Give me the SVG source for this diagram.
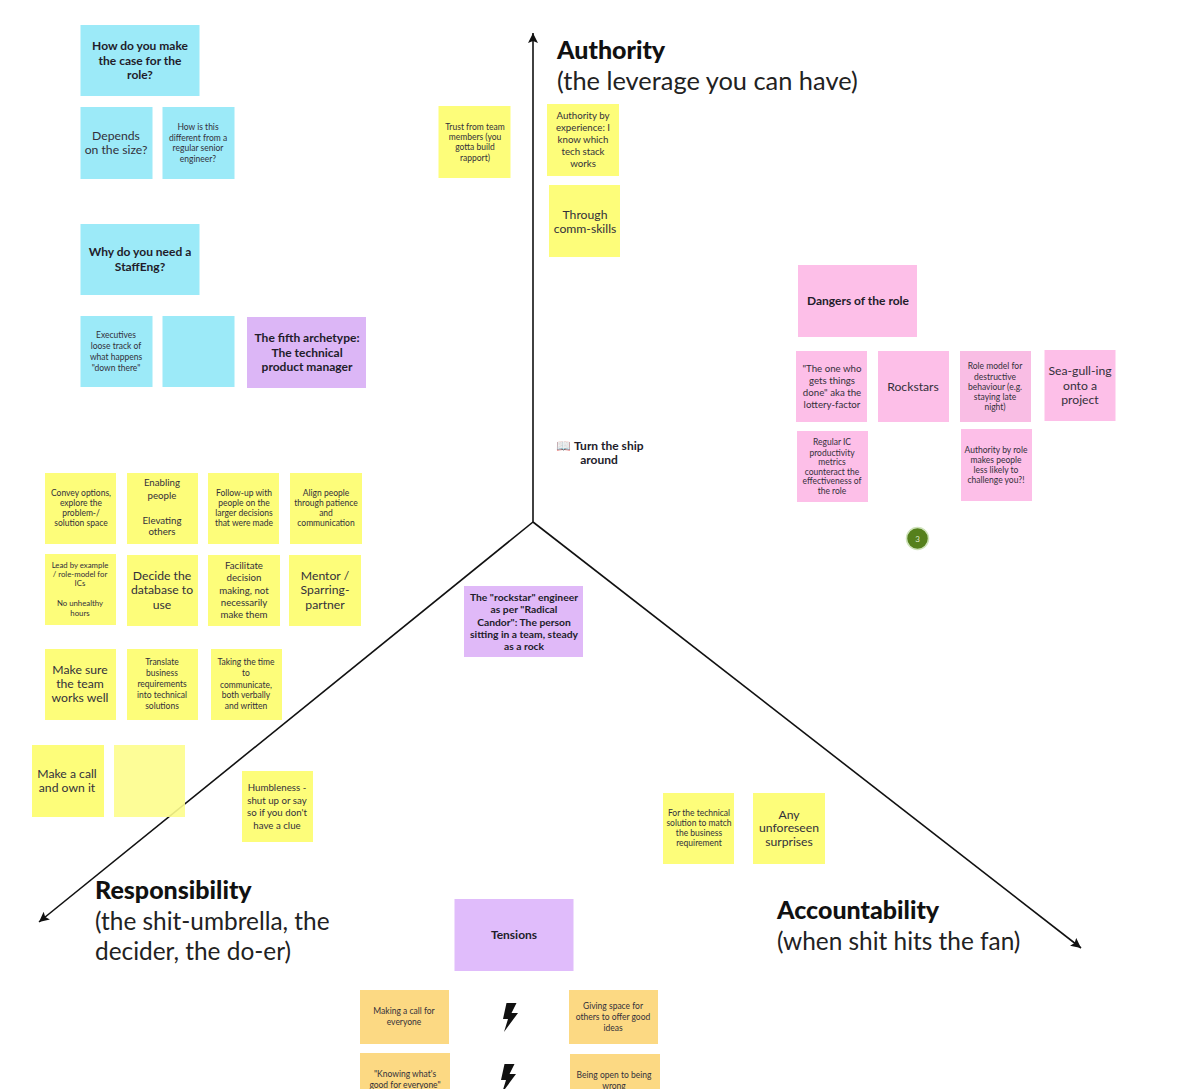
<svg xmlns="http://www.w3.org/2000/svg" width="1200" height="1089" viewBox="0 0 1200 1089">
<defs>
<marker id="arr" markerUnits="userSpaceOnUse" markerWidth="12" markerHeight="12" refX="10" refY="5" orient="auto"><path d="M0,0 L10,5 L0,10 L2,5 Z" fill="#111"/></marker>
<path id="bolt" d="M-3.500,-14 L6.500,-14 L1.500,-4 L8,-4 L-6,15 L-2,2 L-7,2 Z" fill="#111"/>
</defs>
<style>
text{font-family:"Lato","Liberation Sans",sans-serif;text-anchor:middle;fill:#33303a}
.y{fill:#fdfd7a}.b{fill:#9ceaf8}.p{fill:#fdbfe8}.v{fill:#e0bcfb}.o{fill:#fcd983}
.s{font-size:8.500px}.m{font-size:9.700px}.n{font-size:12.200px}.bd{font-size:12px;font-weight:700;fill:#221c2a}
.h{font-size:24.400px;text-anchor:start;fill:#222}.hb{font-size:25px;font-weight:900;fill:#111}.wide{font-size:25.400px}
</style>
<rect width="1200" height="1089" fill="#fff"/>
<g id="connectors" fill="none" stroke="#111" stroke-width="1.600">
<path d="M533,522 L533,33" marker-end="url(#arr)"/>
<path d="M533,522 L39,922" marker-end="url(#arr)"/>
<path d="M533,522 L1081,948" marker-end="url(#arr)"/>
</g>
<g id="n-case"><rect class="b" x="80.500" y="25" width="119" height="71"/><text class="bd"><tspan x="140" y="50">How do you make</tspan><tspan x="140" y="65">the case for the</tspan><tspan x="140" y="79">role?</tspan></text></g>
<g id="n-size"><rect class="b" x="80.500" y="107" width="72" height="72"/><text class="n"><tspan x="116" y="140">Depends</tspan><tspan x="116" y="154">on the size?</tspan></text></g>
<g id="n-diff"><rect class="b" x="162.500" y="107" width="72" height="72"/><text class="s"><tspan x="198" y="130">How is this</tspan><tspan x="198" y="141">different from a</tspan><tspan x="198" y="151">regular senior</tspan><tspan x="198" y="162">engineer?</tspan></text></g>
<g id="n-why"><rect class="b" x="80.500" y="224" width="119" height="71"/><text class="bd"><tspan x="140" y="256">Why do you need a</tspan><tspan x="140" y="271">StaffEng?</tspan></text></g>
<g id="n-exec"><rect class="b" x="80.500" y="316" width="72" height="71"/><text class="s"><tspan x="116" y="338">Executives</tspan><tspan x="116" y="349">loose track of</tspan><tspan x="116" y="360">what happens</tspan><tspan x="116" y="371">"down there"</tspan></text></g>
<g id="n-blank-blue"><rect class="b" x="162.500" y="316" width="72" height="71"/></g>
<g id="n-fifth"><rect x="247" y="317" width="119" height="71" fill="#dcb6f6"/><text class="bd"><tspan x="307" y="342">The fifth archetype:</tspan><tspan x="307" y="357">The technical</tspan><tspan x="307" y="371">product manager</tspan></text></g>
<g id="n-trust"><rect class="y" x="438.500" y="106" width="72" height="72"/><text class="s"><tspan x="475" y="130">Trust from team</tspan><tspan x="475" y="140">members (you</tspan><tspan x="475" y="150">gotta build</tspan><tspan x="475" y="161">rapport)</tspan></text></g>
<g id="n-exp"><rect class="y" x="547" y="104" width="72" height="72"/><text class="m"><tspan x="583" y="119">Authority by</tspan><tspan x="583" y="131">experience: I</tspan><tspan x="583" y="143">know which</tspan><tspan x="583" y="155">tech stack</tspan><tspan x="583" y="167">works</tspan></text></g>
<g id="n-comm"><rect class="y" x="549" y="185" width="71" height="72"/><text class="n"><tspan x="585" y="219">Through</tspan><tspan x="585" y="233">comm-skills</tspan></text></g>
<g id="t-authority"><text class="h"><tspan class="hb" x="557" y="59">Authority</tspan><tspan class="wide" x="557" y="90">(the leverage you can have)</tspan></text></g>
<g id="n-dangers"><rect class="p" x="798" y="265" width="119" height="72"/><text class="bd" x="858" y="305">Dangers of the role</text></g>
<g id="n-done"><rect class="p" x="796" y="351" width="71" height="71"/><text class="m"><tspan x="832" y="372">"The one who</tspan><tspan x="832" y="384">gets things</tspan><tspan x="832" y="396">done" aka the</tspan><tspan x="832" y="408">lottery-factor</tspan></text></g>
<g id="n-rock"><rect class="p" x="878" y="351" width="71" height="71"/><text class="n" x="913" y="391">Rockstars</text></g>
<g id="n-model"><rect x="960" y="351" width="71" height="71" fill="#f9bde4"/><text class="s"><tspan x="995" y="369">Role model for</tspan><tspan x="995" y="380">destructive</tspan><tspan x="995" y="390">behaviour (e.g.</tspan><tspan x="995" y="400">staying late</tspan><tspan x="995" y="410">night)</tspan></text></g>
<g id="n-gull"><rect class="p" x="1044.500" y="350" width="71" height="71"/><text class="n"><tspan x="1080" y="375">Sea-gull-ing</tspan><tspan x="1080" y="390">onto a</tspan><tspan x="1080" y="404">project</tspan></text></g>
<g id="n-metrics"><rect class="p" x="797" y="431" width="71" height="71"/><text class="s"><tspan x="832" y="445">Regular IC</tspan><tspan x="832" y="456">productivity</tspan><tspan x="832" y="465">metrics</tspan><tspan x="832" y="475">counteract the</tspan><tspan x="832" y="484">effectiveness of</tspan><tspan x="832" y="494">the role</tspan></text></g>
<g id="n-byrole"><rect class="p" x="961" y="429" width="71" height="72"/><text class="s"><tspan x="996" y="453">Authority by role</tspan><tspan x="996" y="463">makes people</tspan><tspan x="996" y="473">less likely to</tspan><tspan x="996" y="483">challenge you?!</tspan></text></g>
<g id="n-badge"><circle cx="917.500" cy="538.500" r="11" fill="#55801c" stroke="#cfe3bb" stroke-width="1.500"/><text x="917.500" y="542" style="font-size:8px;fill:#dfe8c8">3</text></g>
<g id="n-book"><text style="font-size:12px;font-weight:700;fill:#221c2a"><tspan x="600" y="450">📖 Turn the ship</tspan><tspan x="599" y="464">around</tspan></text></g>
<g id="n-c1"><rect class="y" x="45" y="473" width="71" height="71"/><text class="s"><tspan x="81" y="496">Convey options,</tspan><tspan x="81" y="506">explore the</tspan><tspan x="81" y="516">problem-/</tspan><tspan x="81" y="526">solution space</tspan></text></g>
<g id="n-c2"><rect class="y" x="127" y="473" width="71" height="71"/><text class="m"><tspan x="162" y="486">Enabling</tspan><tspan x="162" y="499">people</tspan><tspan x="162" y="524">Elevating</tspan><tspan x="162" y="535">others</tspan></text></g>
<g id="n-c3"><rect class="y" x="208" y="473" width="71" height="71"/><text class="s"><tspan x="244" y="496">Follow-up with</tspan><tspan x="244" y="506">people on the</tspan><tspan x="244" y="516">larger decisions</tspan><tspan x="244" y="526">that were made</tspan></text></g>
<g id="n-c4"><rect class="y" x="290" y="473" width="72" height="71"/><text class="s"><tspan x="326" y="496">Align people</tspan><tspan x="326" y="506">through patience</tspan><tspan x="326" y="516">and</tspan><tspan x="326" y="526">communication</tspan></text></g>
<g id="n-d1"><rect class="y" x="45" y="554" width="71" height="71"/><text style="font-size:7.800px"><tspan x="80" y="568">Lead by example</tspan><tspan x="80" y="577">/ role-model for</tspan><tspan x="80" y="586">ICs</tspan><tspan x="80" y="606">No unhealthy</tspan><tspan x="80" y="616">hours</tspan></text></g>
<g id="n-d2"><rect class="y" x="127" y="555" width="71" height="71"/><text class="n"><tspan x="162" y="580">Decide the</tspan><tspan x="162" y="594">database to</tspan><tspan x="162" y="609">use</tspan></text></g>
<g id="n-d3"><rect class="y" x="208" y="555" width="72" height="71"/><text class="m"><tspan x="244" y="569">Facilitate</tspan><tspan x="244" y="581">decision</tspan><tspan x="244" y="594">making, not</tspan><tspan x="244" y="606">necessarily</tspan><tspan x="244" y="618">make them</tspan></text></g>
<g id="n-d4"><rect class="y" x="289" y="555" width="72" height="71"/><text class="n"><tspan x="325" y="580">Mentor /</tspan><tspan x="325" y="594">Sparring-</tspan><tspan x="325" y="609">partner</tspan></text></g>
<g id="n-e1"><rect class="y" x="45" y="649" width="71" height="71"/><text class="n"><tspan x="80" y="674">Make sure</tspan><tspan x="80" y="688">the team</tspan><tspan x="80" y="702">works well</tspan></text></g>
<g id="n-e2"><rect class="y" x="127" y="649" width="71" height="71"/><text class="s"><tspan x="162" y="665">Translate</tspan><tspan x="162" y="676">business</tspan><tspan x="162" y="687">requirements</tspan><tspan x="162" y="698">into technical</tspan><tspan x="162" y="709">solutions</tspan></text></g>
<g id="n-e3"><rect class="y" x="211" y="649" width="71" height="71"/><text class="s"><tspan x="246" y="665">Taking the time</tspan><tspan x="246" y="676">to</tspan><tspan x="246" y="688">communicate,</tspan><tspan x="246" y="698">both verbally</tspan><tspan x="246" y="709">and written</tspan></text></g>
<g id="n-f1"><rect class="y" x="32" y="745" width="72" height="72"/><text class="n"><tspan x="67" y="778">Make a call</tspan><tspan x="67" y="792">and own it</tspan></text></g>
<g id="n-f2"><rect x="114" y="745" width="71" height="72" fill="#fdfd8c" fill-opacity=".9"/></g>
<g id="n-humble"><rect class="y" x="242" y="771" width="71" height="71"/><text class="m"><tspan x="277" y="791">Humbleness -</tspan><tspan x="277" y="804">shut up or say</tspan><tspan x="277" y="816">so if you don't</tspan><tspan x="277" y="829">have a clue</tspan></text></g>
<g id="n-rockstar"><rect x="464" y="586" width="119" height="71" fill="#e0b9f8"/><text style="font-size:10.300px;font-weight:700;fill:#221c2a"><tspan x="524" y="601">The "rockstar" engineer</tspan><tspan x="524" y="613">as per "Radical</tspan><tspan x="524" y="626">Candor": The person</tspan><tspan x="524" y="638">sitting in a team, steady</tspan><tspan x="524" y="650">as a rock</tspan></text></g>
<g id="n-match"><rect class="y" x="663" y="793" width="71" height="71"/><text class="s"><tspan x="699" y="816">For the technical</tspan><tspan x="699" y="826">solution to match</tspan><tspan x="699" y="836">the business</tspan><tspan x="699" y="846">requirement</tspan></text></g>
<g id="n-surprise"><rect class="y" x="753" y="793" width="72" height="71"/><text class="n"><tspan x="789" y="819">Any</tspan><tspan x="789" y="832">unforeseen</tspan><tspan x="789" y="846">surprises</tspan></text></g>
<g id="t-resp"><text class="h"><tspan class="hb" x="95" y="899">Responsibility</tspan><tspan x="95" y="930">(the shit-umbrella, the</tspan><tspan x="95" y="960">decider, the do-er)</tspan></text></g>
<g id="t-acc"><text class="h"><tspan class="hb" x="777" y="919">Accountability</tspan><tspan x="777" y="950">(when shit hits the fan)</tspan></text></g>
<g id="n-tensions"><rect class="v" x="454.500" y="899" width="119" height="72"/><text class="bd" x="514" y="939">Tensions</text></g>
<g id="n-t1"><rect class="o" x="360" y="990" width="89" height="54"/><text class="s"><tspan x="404" y="1014">Making a call for</tspan><tspan x="404" y="1025">everyone</tspan></text></g>
<g id="n-t2"><rect class="o" x="569" y="990" width="89" height="54"/><text class="s"><tspan x="613" y="1009">Giving space for</tspan><tspan x="613" y="1020">others to offer good</tspan><tspan x="613" y="1031">ideas</tspan></text></g>
<g id="n-t3"><rect class="o" x="360" y="1053" width="90" height="40"/><text class="s"><tspan x="405" y="1077">"Knowing what's</tspan><tspan x="405" y="1088">good for everyone"</tspan></text></g>
<g id="n-t4"><rect class="o" x="570" y="1054" width="90" height="40"/><text class="s"><tspan x="614" y="1078">Being open to being</tspan><tspan x="614" y="1089">wrong</tspan></text></g>
<g id="n-bolt1"><use href="#bolt" x="510" y="1017"/></g>
<g id="n-bolt2"><use href="#bolt" x="508" y="1078"/></g>
</svg>
